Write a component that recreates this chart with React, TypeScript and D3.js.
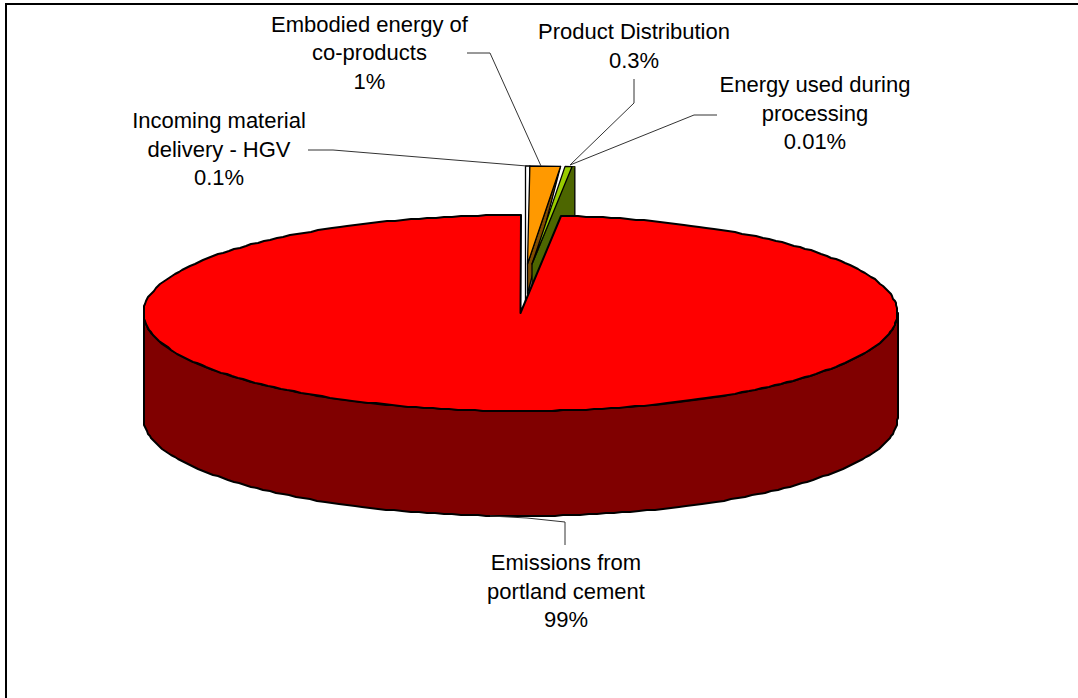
import React from "react";
import * as d3 from "d3";

// Shares of embodied carbon by source, in percent.
const sources = [
  "Incoming material delivery - HGV",
  "Embodied energy of co-products",
  "Product Distribution",
  "Energy used during processing",
  "Emissions from portland cement",
];
const shares = [0.1, 1.3, 0.3, 0.01, 98.5];
const shareLabels = ["0.1%", "1%", "0.3%", "0.01%", "99%"];
const labelLines = [
  ["Incoming material", "delivery - HGV"],
  ["Embodied energy of", "co-products"],
  ["Product Distribution"],
  ["Energy used during", "processing"],
  ["Emissions from", "portland cement"],
];

const WIDTH = 1078;
const HEIGHT = 698;
const CX = 520.5;
const CY = 313;
const RX = 377;
const RY = 98;
const DEPTH = 105;
const LIFT = 49;
const LINE_H = 28.5;
const STEP = (1.3 * Math.PI) / 180;

const faceColors = ["#ffffff", "#ff9900", "#99cc00", "#99cc00", "#ff0000"];
const wallColors = ["#ffffff", "#804d00", "#4d6600", "#4d6600", "#800000"];

// Horizontal pull of each detached wedge.
const pulls = [5, 7, 11.5, 14, 0];

// Label anchors: centre x, first baseline, leader polyline.
const labelLayout = [
  { x: 219, y: 128, leader: [[308, 150], [333, 150], [527, 166]] },
  { x: 369.5, y: 31.5, leader: [[467, 53], [490, 53], [541, 166]] },
  { x: 634, y: 39, leader: [[634, 79], [634, 103], [570, 165]] },
  { x: 815, y: 92, leader: [[717, 115], [694, 115], [570, 165]] },
  { x: 566, y: 570, leader: [[565, 545], [565, 522], [527, 518], [490, 516]] },
];

const xScale = d3.scaleLinear().domain([-1, 1]).range([CX - RX, CX + RX]);
const yScale = d3.scaleLinear().domain([-1, 1]).range([CY + RY, CY - RY]);

type Pt = [number, number];

const rimPoint = (a: number, dx = 0, dy = 0): Pt => [
  xScale(Math.sin(a)) + dx,
  yScale(Math.cos(a)) + dy,
];

const line = d3.line();

// Rim of the disc as a short-segment polyline snapped to whole pixels.
const coarseRim = (a0: number, a1: number, dy = 0): Pt[] => {
  const n = Math.max(1, Math.round(Math.abs(a1 - a0) / STEP));
  return d3.range(0, n + 1).map((i) => {
    const [x, y] = rimPoint(a0 + ((a1 - a0) * i) / n, 0, dy);
    return [Math.round(x), Math.round(y)];
  });
};

const wedges = d3
  .pie<number>()
  .sort(null)
  .startAngle(0)
  .endAngle(2 * Math.PI)(shares);

const EDGE = { stroke: "#000", strokeWidth: 1.3, strokeLinejoin: "round" as const };
const RIM = { stroke: "#000", strokeWidth: 2, strokeLinejoin: "round" as const };

export default function App() {
  const main = wedges[4];
  const frontWall = [
    ...coarseRim(Math.PI / 2, (3 * Math.PI) / 2),
    ...coarseRim((3 * Math.PI) / 2, Math.PI / 2, DEPTH),
  ];
  const mainFace = [[CX, CY] as Pt, ...coarseRim(main.startAngle, main.endAngle)];

  const tipOf = (i: number): Pt => [CX + pulls[i], CY - LIFT];
  const rimOf = (a: number, i: number) => rimPoint(a, pulls[i], -LIFT);

  // White wedge: left edge runs down behind the disc, its column reaches the next wedge.
  const deliveryTop = rimOf(wedges[0].startAngle, 0);
  const nextTop = rimOf(wedges[1].startAngle, 1);
  const delivery: Pt[] = [
    [deliveryTop[0], deliveryTop[1] + 150],
    deliveryTop,
    nextTop,
    [nextTop[0], nextTop[1] + 150],
  ];

  // Co-products wedge with its inner wall narrowing to the rim.
  const coTip = tipOf(1);
  const coRim = rimOf(wedges[1].endAngle, 1);
  const coWall: Pt[] = [coTip, coRim, [coTip[0], coTip[1] + 30]];
  const coFace: Pt[] = [coTip, rimOf(wedges[1].startAngle, 1), coRim];

  // Distribution wedge and the outer wall it shares with the processing sliver.
  const distTip = tipOf(2);
  const distStart = rimOf(wedges[2].startAngle, 2);
  const distEnd = rimOf(wedges[2].endAngle, 2);
  const procEnd = rimOf(wedges[3].endAngle, 3);
  const procWall: Pt[] = [
    distTip,
    distEnd,
    procEnd,
    [procEnd[0], procEnd[1] + DEPTH],
    [distTip[0], distTip[1] + DEPTH],
  ];
  const distFace: Pt[] = [distTip, distStart, distEnd];
  const procFace: Pt[] = [distTip, distEnd, procEnd];

  return (
    <svg
      width={WIDTH}
      height={HEIGHT}
      viewBox={`0 0 ${WIDTH} ${HEIGHT}`}
      style={{ position: "absolute", left: 0, top: 0, background: "#fff" }}
    >
      <path d={`M6,${HEIGHT}V4H${WIDTH}`} fill="none" stroke="#000" strokeWidth={2} />

      <path d={line(frontWall) + "Z"} fill={wallColors[4]} {...RIM} />

      <path d={line(delivery) ?? ""} fill={faceColors[0]} {...EDGE} />
      <path d={line(coWall) + "Z"} fill={wallColors[1]} {...EDGE} />
      <path d={line(coFace) + "Z"} fill={faceColors[1]} {...EDGE} />
      <path d={line(procWall) + "Z"} fill={wallColors[3]} {...EDGE} />
      <path d={line(procFace) + "Z"} fill={wallColors[3]} />
      <path d={line(distFace) + "Z"} fill={faceColors[2]} {...EDGE} />

      <path d={line(mainFace) + "Z"} fill={faceColors[4]} {...RIM} />

      {labelLayout.map((l, i) => (
        <path
          key={sources[i]}
          d={line(l.leader as Pt[]) ?? ""}
          fill="none"
          stroke="#333"
          strokeWidth={1}
        />
      ))}

      {labelLayout.map((l, i) => (
        <text
          key={sources[i]}
          textAnchor="middle"
          fontFamily="'Liberation Sans', Arial, sans-serif"
          fontSize={22}
          fill="#000"
        >
          {[...labelLines[i], shareLabels[i]].map((t, j) => (
            <tspan key={j} x={l.x} y={l.y + j * LINE_H}>
              {t}
            </tspan>
          ))}
        </text>
      ))}
    </svg>
  );
}
